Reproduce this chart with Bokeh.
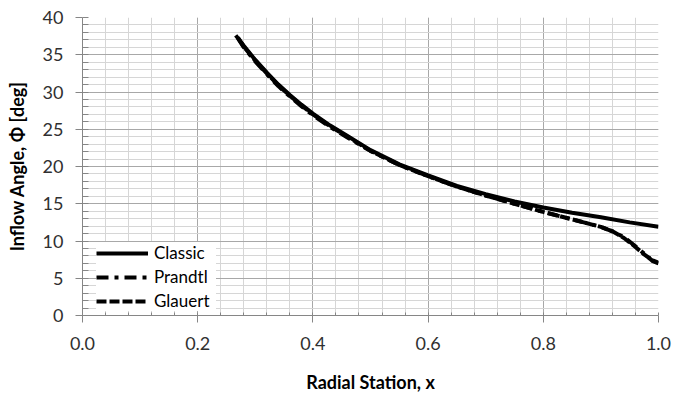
from bokeh.plotting import figure
from bokeh.models import (SingleIntervalTicker, NumeralTickFormatter, Legend,
                          LegendItem, Range1d)
from bokeh.embed import file_html
from bokeh.resources import INLINE

# ---- data ----
classic_x = [0.266, 0.28, 0.30, 0.32, 0.34, 0.36, 0.38, 0.40, 0.43, 0.46, 0.50,
             0.55, 0.60, 0.65, 0.70, 0.75, 0.80, 0.85, 0.90, 0.95, 1.00]
classic_y = [37.6, 36.2, 34.3, 32.6, 31.0, 29.6, 28.3, 27.1, 25.5, 24.1, 22.2,
             20.3, 18.8, 17.4, 16.3, 15.3, 14.5, 13.8, 13.2, 12.5, 11.9]

prandtl_x = [0.27, 0.28, 0.30, 0.32, 0.34, 0.36, 0.38, 0.40, 0.43, 0.46, 0.50,
             0.55, 0.60, 0.65, 0.70, 0.75, 0.80, 0.85, 0.88, 0.90, 0.92, 0.94,
             0.96, 0.975, 0.99, 1.00]
prandtl_y = [37.2, 36.0, 34.1, 32.4, 30.8, 29.4, 28.1, 26.9, 25.3, 23.9, 22.1,
             20.2, 18.7, 17.3, 16.1, 15.0, 13.9, 12.9, 12.3, 11.9, 11.3, 10.5,
             9.3, 8.3, 7.3, 7.0]

glauert_x = [0.27, 0.28, 0.30, 0.32, 0.34, 0.36, 0.38, 0.40, 0.43, 0.46, 0.50,
             0.55, 0.60, 0.65, 0.70, 0.75, 0.80, 0.85, 0.88, 0.90, 0.92, 0.94,
             0.96, 0.975, 0.99, 1.00]
glauert_y = [37.3, 36.1, 34.2, 32.5, 30.9, 29.5, 28.2, 27.0, 25.4, 24.0, 22.1,
             20.2, 18.7, 17.3, 16.1, 15.0, 13.9, 12.9, 12.3, 11.9, 11.3, 10.4,
             9.2, 8.2, 7.4, 7.1]

x_label = "Radial Station, x"
y_label = "Inflow Angle, \u03a6 [deg]"
series_names = ["Classic", "Prandtl", "Glauert"]

FONT = "Lato"

p = figure(width=673, height=401, output_backend="svg", toolbar_location=None,
           x_range=Range1d(0, 1), y_range=Range1d(0, 40),
           min_border_left=82, min_border_right=15, min_border_top=17,
           min_border_bottom=86, background_fill_color="white",
           border_fill_color="white")
p.outline_line_color = None

# axes
p.xaxis.ticker = SingleIntervalTicker(interval=0.2, num_minor_ticks=5)
p.yaxis.ticker = SingleIntervalTicker(interval=5, num_minor_ticks=5)
p.xaxis.formatter = NumeralTickFormatter(format="0.0")
p.yaxis.formatter = NumeralTickFormatter(format="0")

for ax in (p.xaxis, p.yaxis):
    ax.axis_line_color = "#868686"
    ax.major_tick_line_color = "#868686"
    ax.minor_tick_line_color = "#868686"
    ax.major_tick_out = 7
    ax.major_tick_in = 0
    ax.minor_tick_out = 0
    ax.major_label_text_font = FONT
    ax.major_label_text_font_size = "18px"
    ax.major_label_text_color = "#303030"
    ax.axis_label_text_font = FONT
    ax.axis_label_text_font_style = "bold"
    ax.axis_label_text_font_size = "18px"
    ax.axis_label_text_color = "#000000"

p.xaxis.minor_tick_in = 3
p.yaxis.minor_tick_in = 6
p.xaxis.axis_label = x_label
p.yaxis.axis_label = y_label
p.xaxis.major_label_standoff = 14
p.xaxis.axis_label_standoff = 18
p.yaxis.major_label_standoff = 12
p.yaxis.axis_label_standoff = 12

# grids
for g in (p.xgrid, p.ygrid):
    g.grid_line_color = "#a8a8a8"
    g.grid_line_width = 1
    g.minor_grid_line_color = "#d6d6d6"
    g.minor_grid_line_width = 1

# series
r1 = p.line(classic_x, classic_y, line_color="black", line_width=4)
r2 = p.line(prandtl_x, prandtl_y, line_color="black", line_width=4,
            line_dash="12 6 4 6")
r3 = p.line(glauert_x, glauert_y, line_color="black", line_width=4,
            line_dash="10 3")

legend = Legend(items=[LegendItem(label=series_names[0], renderers=[r1]),
                       LegendItem(label=series_names[1], renderers=[r2]),
                       LegendItem(label=series_names[2], renderers=[r3])],
                location=(14, 4), orientation="vertical")
legend.background_fill_color = "white"
legend.background_fill_alpha = 1.0
legend.border_line_color = None
legend.label_text_font = FONT
legend.label_text_font_size = "17px"
legend.label_text_color = "#000000"
legend.glyph_width = 52
legend.glyph_height = 20
legend.label_height = 20
legend.label_width = 62
legend.label_standoff = 6
legend.spacing = 3
legend.padding = 9
legend.margin = 0
p.add_layout(legend)

open("out.html", "w").write(file_html(p, INLINE))
